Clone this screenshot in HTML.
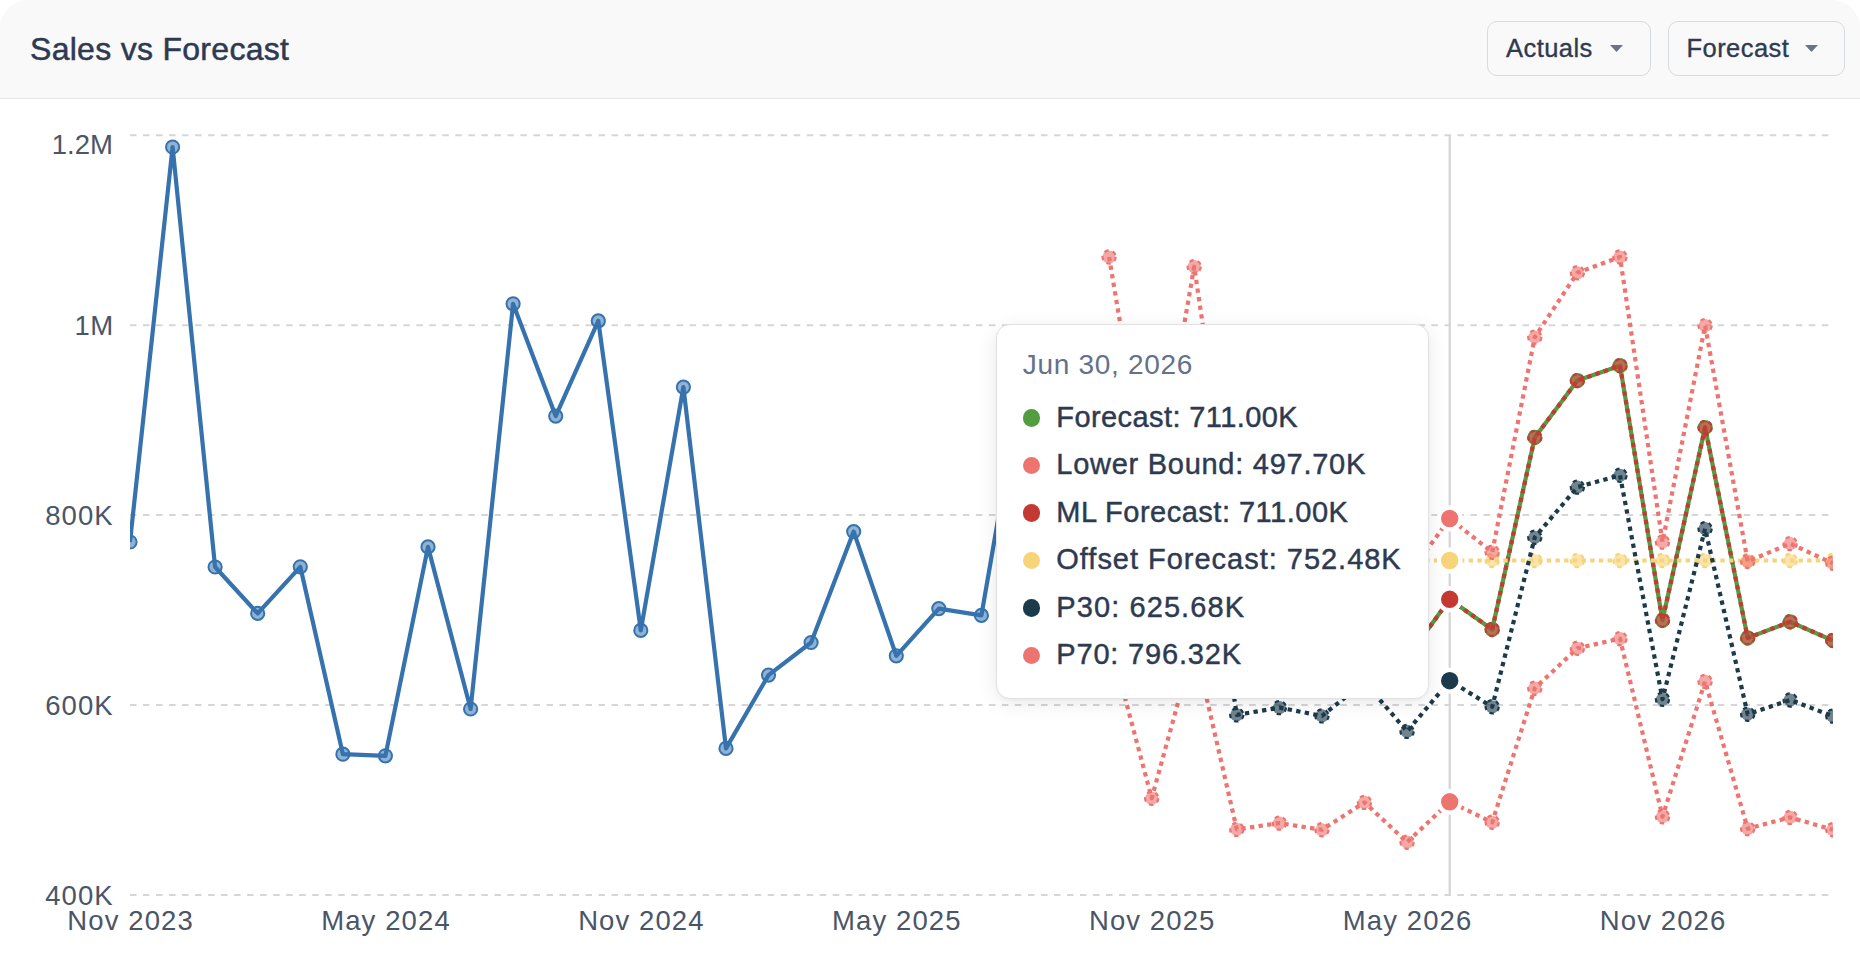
<!DOCTYPE html>
<html><head><meta charset="utf-8"><title>Sales vs Forecast</title>
<style>
html,body{margin:0;padding:0;background:#fff;}
body{width:1860px;height:966px;overflow:hidden;position:relative;font-family:"Liberation Sans",Arial,sans-serif;}
.card{position:absolute;left:0;top:0;width:1860px;height:1000px;border-radius:28px 28px 0 0;background:#fff;overflow:hidden;}
.hdr{position:absolute;left:0;top:0;width:1860px;height:97.6px;background:#f9f9fa;border-bottom:1.4px solid #e6e7eb;}
.title{position:absolute;left:30px;top:28.8px;font-size:32px;line-height:40px;color:#2d3a52;letter-spacing:0.29px;white-space:nowrap;-webkit-text-stroke:0.5px #2d3a52;}
.btn{position:absolute;top:21px;height:53.4px;border:1.5px solid #d6dae1;border-radius:10px;background:#f9f9fa;box-sizing:content-box;}
.btn span{position:absolute;top:10.9px;font-size:25.5px;line-height:30px;color:#2e3a50;letter-spacing:0.45px;white-space:nowrap;-webkit-text-stroke:0.35px #2e3a50;}
.caret{position:absolute;top:22.9px;}
.chart{position:absolute;left:0;top:0;}
.ax{font-family:"Liberation Sans",Arial,sans-serif;font-size:27.5px;fill:#4a5568;letter-spacing:1.1px;}
.tip{position:absolute;left:996.3px;top:324.4px;width:430.5px;height:372.6px;background:#fff;border:1.4px solid #e2e2e2;border-radius:14px;
 box-shadow:0 4px 20px rgba(0,0,0,0.09), 0 1px 3px rgba(0,0,0,0.04);}
.tdate{position:absolute;left:25.5px;top:22.7px;font-size:28px;line-height:34px;color:#64718a;letter-spacing:0.7px;white-space:nowrap;}
.ti{position:absolute;left:0;height:34px;width:420px;}
.dot{position:absolute;left:25.7px;top:9.6px;width:17.5px;height:17.5px;border-radius:50%;}
.tt{position:absolute;left:59px;top:0;font-size:29px;line-height:34px;color:#2e3a50;letter-spacing:0.5px;white-space:nowrap;-webkit-text-stroke:0.45px #2e3a50;}
</style></head>
<body>
<div class="card">
<div class="hdr">
<div class="title">Sales vs Forecast</div>
<div class="btn" style="left:1487px;width:162px;"><span style="left:18px;">Actuals</span><svg class="caret" style="left:121.5px" width="13" height="7" viewBox="0 0 13 7"><path d="M0 0 L13 0 L6.5 7 Z" fill="#6b7385"/></svg></div>
<div class="btn" style="left:1668px;width:175px;"><span style="left:17.5px;">Forecast</span><svg class="caret" style="left:135.5px" width="13" height="7" viewBox="0 0 13 7"><path d="M0 0 L13 0 L6.5 7 Z" fill="#6b7385"/></svg></div>
</div>
<svg class="chart" width="1860" height="966" viewBox="0 0 1860 966">
<defs><clipPath id="plot"><rect x="130" y="100" width="1703" height="866"/></clipPath></defs>
<line x1="130" y1="135.3" x2="1832" y2="135.3" stroke="#d6d6d6" stroke-width="2" stroke-dasharray="6.507 6.507"/>
<text x="112.9" y="154.4" text-anchor="end" class="ax" style="letter-spacing:0.0px">1.2M</text>
<line x1="130" y1="325.2" x2="1832" y2="325.2" stroke="#d6d6d6" stroke-width="2" stroke-dasharray="6.507 6.507"/>
<text x="113.8" y="335.0" text-anchor="end" class="ax" style="letter-spacing:0.6px">1M</text>
<line x1="130" y1="515.1" x2="1832" y2="515.1" stroke="#d6d6d6" stroke-width="2" stroke-dasharray="6.507 6.507"/>
<text x="113.8" y="524.9" text-anchor="end" class="ax" style="letter-spacing:1.1px">800K</text>
<line x1="130" y1="705.0" x2="1832" y2="705.0" stroke="#d6d6d6" stroke-width="2" stroke-dasharray="6.507 6.507"/>
<text x="113.8" y="714.8" text-anchor="end" class="ax" style="letter-spacing:1.1px">600K</text>
<line x1="130" y1="894.9" x2="1832" y2="894.9" stroke="#d6d6d6" stroke-width="2" stroke-dasharray="6.507 6.507"/>
<text x="113.8" y="904.7" text-anchor="end" class="ax" style="letter-spacing:1.1px">400K</text>
<text x="130.6" y="929.6" text-anchor="middle" class="ax">Nov 2023</text>
<text x="386.0" y="929.6" text-anchor="middle" class="ax">May 2024</text>
<text x="641.4" y="929.6" text-anchor="middle" class="ax">Nov 2024</text>
<text x="896.8" y="929.6" text-anchor="middle" class="ax">May 2025</text>
<text x="1152.2" y="929.6" text-anchor="middle" class="ax">Nov 2025</text>
<text x="1407.6" y="929.6" text-anchor="middle" class="ax">May 2026</text>
<text x="1663.1" y="929.6" text-anchor="middle" class="ax">Nov 2026</text>
<line x1="1449.7" y1="135.3" x2="1449.7" y2="894.9" stroke="#d4d4d4" stroke-width="2.2"/>
<g clip-path="url(#plot)">
<polyline points="130.0,542.0 172.6,147.0 215.1,567.0 257.7,613.4 300.3,566.8 342.9,754.2 385.4,755.8 428.0,546.9 470.6,709.0 513.1,303.8 555.7,416.1 598.3,320.9 640.8,630.4 683.4,387.1 726.0,748.4 768.5,675.1 811.1,642.5 853.7,531.6 896.3,655.8 938.8,608.6 981.4,615.4 1024.0,370.0 1066.5,520.0" fill="none" stroke="#3673ae" stroke-width="4.2" stroke-linejoin="round"/>
<circle cx="130.0" cy="542.0" r="6.6" fill="#3673ae" fill-opacity="0.55" stroke="#3673ae" stroke-width="2.0"/>
<circle cx="172.6" cy="147.0" r="6.6" fill="#3673ae" fill-opacity="0.55" stroke="#3673ae" stroke-width="2.0"/>
<circle cx="215.1" cy="567.0" r="6.6" fill="#3673ae" fill-opacity="0.55" stroke="#3673ae" stroke-width="2.0"/>
<circle cx="257.7" cy="613.4" r="6.6" fill="#3673ae" fill-opacity="0.55" stroke="#3673ae" stroke-width="2.0"/>
<circle cx="300.3" cy="566.8" r="6.6" fill="#3673ae" fill-opacity="0.55" stroke="#3673ae" stroke-width="2.0"/>
<circle cx="342.9" cy="754.2" r="6.6" fill="#3673ae" fill-opacity="0.55" stroke="#3673ae" stroke-width="2.0"/>
<circle cx="385.4" cy="755.8" r="6.6" fill="#3673ae" fill-opacity="0.55" stroke="#3673ae" stroke-width="2.0"/>
<circle cx="428.0" cy="546.9" r="6.6" fill="#3673ae" fill-opacity="0.55" stroke="#3673ae" stroke-width="2.0"/>
<circle cx="470.6" cy="709.0" r="6.6" fill="#3673ae" fill-opacity="0.55" stroke="#3673ae" stroke-width="2.0"/>
<circle cx="513.1" cy="303.8" r="6.6" fill="#3673ae" fill-opacity="0.55" stroke="#3673ae" stroke-width="2.0"/>
<circle cx="555.7" cy="416.1" r="6.6" fill="#3673ae" fill-opacity="0.55" stroke="#3673ae" stroke-width="2.0"/>
<circle cx="598.3" cy="320.9" r="6.6" fill="#3673ae" fill-opacity="0.55" stroke="#3673ae" stroke-width="2.0"/>
<circle cx="640.8" cy="630.4" r="6.6" fill="#3673ae" fill-opacity="0.55" stroke="#3673ae" stroke-width="2.0"/>
<circle cx="683.4" cy="387.1" r="6.6" fill="#3673ae" fill-opacity="0.55" stroke="#3673ae" stroke-width="2.0"/>
<circle cx="726.0" cy="748.4" r="6.6" fill="#3673ae" fill-opacity="0.55" stroke="#3673ae" stroke-width="2.0"/>
<circle cx="768.5" cy="675.1" r="6.6" fill="#3673ae" fill-opacity="0.55" stroke="#3673ae" stroke-width="2.0"/>
<circle cx="811.1" cy="642.5" r="6.6" fill="#3673ae" fill-opacity="0.55" stroke="#3673ae" stroke-width="2.0"/>
<circle cx="853.7" cy="531.6" r="6.6" fill="#3673ae" fill-opacity="0.55" stroke="#3673ae" stroke-width="2.0"/>
<circle cx="896.3" cy="655.8" r="6.6" fill="#3673ae" fill-opacity="0.55" stroke="#3673ae" stroke-width="2.0"/>
<circle cx="938.8" cy="608.6" r="6.6" fill="#3673ae" fill-opacity="0.55" stroke="#3673ae" stroke-width="2.0"/>
<circle cx="981.4" cy="615.4" r="6.6" fill="#3673ae" fill-opacity="0.55" stroke="#3673ae" stroke-width="2.0"/>
<circle cx="1024.0" cy="370.0" r="6.6" fill="#3673ae" fill-opacity="0.55" stroke="#3673ae" stroke-width="2.0"/>
<circle cx="1066.5" cy="520.0" r="6.6" fill="#3673ae" fill-opacity="0.55" stroke="#3673ae" stroke-width="2.0"/>
<polyline points="1364.5,620.0 1407.1,658.0 1449.7,599.3 1492.2,629.5 1534.8,437.4 1577.4,380.6 1620.0,365.7 1662.5,620.3 1705.1,427.5 1747.7,637.9 1790.2,621.8 1832.8,640.5" fill="none" stroke="#529d3f" stroke-width="4.2" stroke-linejoin="round"/>
<circle cx="1364.5" cy="620.0" r="6.6" fill="#529d3f" fill-opacity="0.55" stroke="#529d3f" stroke-width="2.0"/>
<circle cx="1407.1" cy="658.0" r="6.6" fill="#529d3f" fill-opacity="0.55" stroke="#529d3f" stroke-width="2.0"/>
<circle cx="1492.2" cy="629.5" r="6.6" fill="#529d3f" fill-opacity="0.55" stroke="#529d3f" stroke-width="2.0"/>
<circle cx="1534.8" cy="437.4" r="6.6" fill="#529d3f" fill-opacity="0.55" stroke="#529d3f" stroke-width="2.0"/>
<circle cx="1577.4" cy="380.6" r="6.6" fill="#529d3f" fill-opacity="0.55" stroke="#529d3f" stroke-width="2.0"/>
<circle cx="1620.0" cy="365.7" r="6.6" fill="#529d3f" fill-opacity="0.55" stroke="#529d3f" stroke-width="2.0"/>
<circle cx="1662.5" cy="620.3" r="6.6" fill="#529d3f" fill-opacity="0.55" stroke="#529d3f" stroke-width="2.0"/>
<circle cx="1705.1" cy="427.5" r="6.6" fill="#529d3f" fill-opacity="0.55" stroke="#529d3f" stroke-width="2.0"/>
<circle cx="1747.7" cy="637.9" r="6.6" fill="#529d3f" fill-opacity="0.55" stroke="#529d3f" stroke-width="2.0"/>
<circle cx="1790.2" cy="621.8" r="6.6" fill="#529d3f" fill-opacity="0.55" stroke="#529d3f" stroke-width="2.0"/>
<circle cx="1832.8" cy="640.5" r="6.6" fill="#529d3f" fill-opacity="0.55" stroke="#529d3f" stroke-width="2.0"/>
<polyline points="1109.1,638.0 1151.7,798.3 1194.2,644.0 1236.8,829.4 1279.4,823.1 1322.0,829.8 1364.5,802.4 1407.1,842.2 1449.7,801.8 1492.2,822.3 1534.8,688.2 1577.4,648.3 1620.0,638.6 1662.5,816.7 1705.1,681.4 1747.7,828.6 1790.2,817.4 1832.8,829.7" fill="none" stroke="#ee7470" stroke-width="4.2" stroke-linejoin="round" stroke-dasharray="4.34 4.34"/>
<circle cx="1109.1" cy="638.0" r="6.6" fill="#ee7470" fill-opacity="0.62" stroke="#ee7470" stroke-width="2.2" stroke-dasharray="4.34 4.34"/>
<circle cx="1151.7" cy="798.3" r="6.6" fill="#ee7470" fill-opacity="0.62" stroke="#ee7470" stroke-width="2.2" stroke-dasharray="4.34 4.34"/>
<circle cx="1194.2" cy="644.0" r="6.6" fill="#ee7470" fill-opacity="0.62" stroke="#ee7470" stroke-width="2.2" stroke-dasharray="4.34 4.34"/>
<circle cx="1236.8" cy="829.4" r="6.6" fill="#ee7470" fill-opacity="0.62" stroke="#ee7470" stroke-width="2.2" stroke-dasharray="4.34 4.34"/>
<circle cx="1279.4" cy="823.1" r="6.6" fill="#ee7470" fill-opacity="0.62" stroke="#ee7470" stroke-width="2.2" stroke-dasharray="4.34 4.34"/>
<circle cx="1322.0" cy="829.8" r="6.6" fill="#ee7470" fill-opacity="0.62" stroke="#ee7470" stroke-width="2.2" stroke-dasharray="4.34 4.34"/>
<circle cx="1364.5" cy="802.4" r="6.6" fill="#ee7470" fill-opacity="0.62" stroke="#ee7470" stroke-width="2.2" stroke-dasharray="4.34 4.34"/>
<circle cx="1407.1" cy="842.2" r="6.6" fill="#ee7470" fill-opacity="0.62" stroke="#ee7470" stroke-width="2.2" stroke-dasharray="4.34 4.34"/>
<circle cx="1492.2" cy="822.3" r="6.6" fill="#ee7470" fill-opacity="0.62" stroke="#ee7470" stroke-width="2.2" stroke-dasharray="4.34 4.34"/>
<circle cx="1534.8" cy="688.2" r="6.6" fill="#ee7470" fill-opacity="0.62" stroke="#ee7470" stroke-width="2.2" stroke-dasharray="4.34 4.34"/>
<circle cx="1577.4" cy="648.3" r="6.6" fill="#ee7470" fill-opacity="0.62" stroke="#ee7470" stroke-width="2.2" stroke-dasharray="4.34 4.34"/>
<circle cx="1620.0" cy="638.6" r="6.6" fill="#ee7470" fill-opacity="0.62" stroke="#ee7470" stroke-width="2.2" stroke-dasharray="4.34 4.34"/>
<circle cx="1662.5" cy="816.7" r="6.6" fill="#ee7470" fill-opacity="0.62" stroke="#ee7470" stroke-width="2.2" stroke-dasharray="4.34 4.34"/>
<circle cx="1705.1" cy="681.4" r="6.6" fill="#ee7470" fill-opacity="0.62" stroke="#ee7470" stroke-width="2.2" stroke-dasharray="4.34 4.34"/>
<circle cx="1747.7" cy="828.6" r="6.6" fill="#ee7470" fill-opacity="0.62" stroke="#ee7470" stroke-width="2.2" stroke-dasharray="4.34 4.34"/>
<circle cx="1790.2" cy="817.4" r="6.6" fill="#ee7470" fill-opacity="0.62" stroke="#ee7470" stroke-width="2.2" stroke-dasharray="4.34 4.34"/>
<circle cx="1832.8" cy="829.7" r="6.6" fill="#ee7470" fill-opacity="0.62" stroke="#ee7470" stroke-width="2.2" stroke-dasharray="4.34 4.34"/>
<polyline points="1364.5,620.0 1407.1,658.0 1449.7,599.3 1492.2,629.5 1534.8,437.4 1577.4,380.6 1620.0,365.7 1662.5,620.3 1705.1,427.5 1747.7,637.9 1790.2,621.8 1832.8,640.5" fill="none" stroke="#c43a32" stroke-width="4.2" stroke-linejoin="round" stroke-dasharray="4.34 4.34"/>
<circle cx="1364.5" cy="620.0" r="6.6" fill="#c43a32" fill-opacity="0.62" stroke="#c43a32" stroke-width="2.2" stroke-dasharray="4.34 4.34"/>
<circle cx="1407.1" cy="658.0" r="6.6" fill="#c43a32" fill-opacity="0.62" stroke="#c43a32" stroke-width="2.2" stroke-dasharray="4.34 4.34"/>
<circle cx="1492.2" cy="629.5" r="6.6" fill="#c43a32" fill-opacity="0.62" stroke="#c43a32" stroke-width="2.2" stroke-dasharray="4.34 4.34"/>
<circle cx="1534.8" cy="437.4" r="6.6" fill="#c43a32" fill-opacity="0.62" stroke="#c43a32" stroke-width="2.2" stroke-dasharray="4.34 4.34"/>
<circle cx="1577.4" cy="380.6" r="6.6" fill="#c43a32" fill-opacity="0.62" stroke="#c43a32" stroke-width="2.2" stroke-dasharray="4.34 4.34"/>
<circle cx="1620.0" cy="365.7" r="6.6" fill="#c43a32" fill-opacity="0.62" stroke="#c43a32" stroke-width="2.2" stroke-dasharray="4.34 4.34"/>
<circle cx="1662.5" cy="620.3" r="6.6" fill="#c43a32" fill-opacity="0.62" stroke="#c43a32" stroke-width="2.2" stroke-dasharray="4.34 4.34"/>
<circle cx="1705.1" cy="427.5" r="6.6" fill="#c43a32" fill-opacity="0.62" stroke="#c43a32" stroke-width="2.2" stroke-dasharray="4.34 4.34"/>
<circle cx="1747.7" cy="637.9" r="6.6" fill="#c43a32" fill-opacity="0.62" stroke="#c43a32" stroke-width="2.2" stroke-dasharray="4.34 4.34"/>
<circle cx="1790.2" cy="621.8" r="6.6" fill="#c43a32" fill-opacity="0.62" stroke="#c43a32" stroke-width="2.2" stroke-dasharray="4.34 4.34"/>
<circle cx="1832.8" cy="640.5" r="6.6" fill="#c43a32" fill-opacity="0.62" stroke="#c43a32" stroke-width="2.2" stroke-dasharray="4.34 4.34"/>
<polyline points="1364.5,560.5 1407.1,560.5 1449.7,560.5 1492.2,560.5 1534.8,560.5 1577.4,560.5 1620.0,560.5 1662.5,560.5 1705.1,560.5 1747.7,560.5 1790.2,560.5 1832.8,560.5" fill="none" stroke="#f7d379" stroke-width="4.2" stroke-linejoin="round" stroke-dasharray="4.34 4.34"/>
<circle cx="1364.5" cy="560.5" r="6.6" fill="#f7d379" fill-opacity="0.62" stroke="#f7d379" stroke-width="2.2" stroke-dasharray="4.34 4.34"/>
<circle cx="1407.1" cy="560.5" r="6.6" fill="#f7d379" fill-opacity="0.62" stroke="#f7d379" stroke-width="2.2" stroke-dasharray="4.34 4.34"/>
<circle cx="1492.2" cy="560.5" r="6.6" fill="#f7d379" fill-opacity="0.62" stroke="#f7d379" stroke-width="2.2" stroke-dasharray="4.34 4.34"/>
<circle cx="1534.8" cy="560.5" r="6.6" fill="#f7d379" fill-opacity="0.62" stroke="#f7d379" stroke-width="2.2" stroke-dasharray="4.34 4.34"/>
<circle cx="1577.4" cy="560.5" r="6.6" fill="#f7d379" fill-opacity="0.62" stroke="#f7d379" stroke-width="2.2" stroke-dasharray="4.34 4.34"/>
<circle cx="1620.0" cy="560.5" r="6.6" fill="#f7d379" fill-opacity="0.62" stroke="#f7d379" stroke-width="2.2" stroke-dasharray="4.34 4.34"/>
<circle cx="1662.5" cy="560.5" r="6.6" fill="#f7d379" fill-opacity="0.62" stroke="#f7d379" stroke-width="2.2" stroke-dasharray="4.34 4.34"/>
<circle cx="1705.1" cy="560.5" r="6.6" fill="#f7d379" fill-opacity="0.62" stroke="#f7d379" stroke-width="2.2" stroke-dasharray="4.34 4.34"/>
<circle cx="1747.7" cy="560.5" r="6.6" fill="#f7d379" fill-opacity="0.62" stroke="#f7d379" stroke-width="2.2" stroke-dasharray="4.34 4.34"/>
<circle cx="1790.2" cy="560.5" r="6.6" fill="#f7d379" fill-opacity="0.62" stroke="#f7d379" stroke-width="2.2" stroke-dasharray="4.34 4.34"/>
<circle cx="1832.8" cy="560.5" r="6.6" fill="#f7d379" fill-opacity="0.62" stroke="#f7d379" stroke-width="2.2" stroke-dasharray="4.34 4.34"/>
<polyline points="1194.2,440.0 1236.8,714.9 1279.4,707.6 1322.0,715.9 1364.5,682.0 1407.1,731.4 1449.7,680.7 1492.2,706.8 1534.8,537.3 1577.4,487.1 1620.0,475.3 1662.5,699.3 1705.1,528.7 1747.7,714.2 1790.2,700.0 1832.8,716.1" fill="none" stroke="#1b3a4b" stroke-width="4.2" stroke-linejoin="round" stroke-dasharray="4.34 4.34"/>
<circle cx="1194.2" cy="440.0" r="6.6" fill="#1b3a4b" fill-opacity="0.62" stroke="#1b3a4b" stroke-width="2.2" stroke-dasharray="4.34 4.34"/>
<circle cx="1236.8" cy="714.9" r="6.6" fill="#1b3a4b" fill-opacity="0.62" stroke="#1b3a4b" stroke-width="2.2" stroke-dasharray="4.34 4.34"/>
<circle cx="1279.4" cy="707.6" r="6.6" fill="#1b3a4b" fill-opacity="0.62" stroke="#1b3a4b" stroke-width="2.2" stroke-dasharray="4.34 4.34"/>
<circle cx="1322.0" cy="715.9" r="6.6" fill="#1b3a4b" fill-opacity="0.62" stroke="#1b3a4b" stroke-width="2.2" stroke-dasharray="4.34 4.34"/>
<circle cx="1364.5" cy="682.0" r="6.6" fill="#1b3a4b" fill-opacity="0.62" stroke="#1b3a4b" stroke-width="2.2" stroke-dasharray="4.34 4.34"/>
<circle cx="1407.1" cy="731.4" r="6.6" fill="#1b3a4b" fill-opacity="0.62" stroke="#1b3a4b" stroke-width="2.2" stroke-dasharray="4.34 4.34"/>
<circle cx="1492.2" cy="706.8" r="6.6" fill="#1b3a4b" fill-opacity="0.62" stroke="#1b3a4b" stroke-width="2.2" stroke-dasharray="4.34 4.34"/>
<circle cx="1534.8" cy="537.3" r="6.6" fill="#1b3a4b" fill-opacity="0.62" stroke="#1b3a4b" stroke-width="2.2" stroke-dasharray="4.34 4.34"/>
<circle cx="1577.4" cy="487.1" r="6.6" fill="#1b3a4b" fill-opacity="0.62" stroke="#1b3a4b" stroke-width="2.2" stroke-dasharray="4.34 4.34"/>
<circle cx="1620.0" cy="475.3" r="6.6" fill="#1b3a4b" fill-opacity="0.62" stroke="#1b3a4b" stroke-width="2.2" stroke-dasharray="4.34 4.34"/>
<circle cx="1662.5" cy="699.3" r="6.6" fill="#1b3a4b" fill-opacity="0.62" stroke="#1b3a4b" stroke-width="2.2" stroke-dasharray="4.34 4.34"/>
<circle cx="1705.1" cy="528.7" r="6.6" fill="#1b3a4b" fill-opacity="0.62" stroke="#1b3a4b" stroke-width="2.2" stroke-dasharray="4.34 4.34"/>
<circle cx="1747.7" cy="714.2" r="6.6" fill="#1b3a4b" fill-opacity="0.62" stroke="#1b3a4b" stroke-width="2.2" stroke-dasharray="4.34 4.34"/>
<circle cx="1790.2" cy="700.0" r="6.6" fill="#1b3a4b" fill-opacity="0.62" stroke="#1b3a4b" stroke-width="2.2" stroke-dasharray="4.34 4.34"/>
<circle cx="1832.8" cy="716.1" r="6.6" fill="#1b3a4b" fill-opacity="0.62" stroke="#1b3a4b" stroke-width="2.2" stroke-dasharray="4.34 4.34"/>
<polyline points="1109.1,257.0 1151.7,512.0 1194.2,266.7 1236.8,555.0 1279.4,560.0 1322.0,590.0 1364.5,570.0 1407.1,577.0 1449.7,518.5 1492.2,552.2 1534.8,337.1 1577.4,272.8 1620.0,257.0 1662.5,542.1 1705.1,325.6 1747.7,561.5 1790.2,543.6 1832.8,563.3" fill="none" stroke="#ee7470" stroke-width="4.2" stroke-linejoin="round" stroke-dasharray="4.34 4.34"/>
<circle cx="1109.1" cy="257.0" r="6.6" fill="#ee7470" fill-opacity="0.62" stroke="#ee7470" stroke-width="2.2" stroke-dasharray="4.34 4.34"/>
<circle cx="1151.7" cy="512.0" r="6.6" fill="#ee7470" fill-opacity="0.62" stroke="#ee7470" stroke-width="2.2" stroke-dasharray="4.34 4.34"/>
<circle cx="1194.2" cy="266.7" r="6.6" fill="#ee7470" fill-opacity="0.62" stroke="#ee7470" stroke-width="2.2" stroke-dasharray="4.34 4.34"/>
<circle cx="1236.8" cy="555.0" r="6.6" fill="#ee7470" fill-opacity="0.62" stroke="#ee7470" stroke-width="2.2" stroke-dasharray="4.34 4.34"/>
<circle cx="1279.4" cy="560.0" r="6.6" fill="#ee7470" fill-opacity="0.62" stroke="#ee7470" stroke-width="2.2" stroke-dasharray="4.34 4.34"/>
<circle cx="1322.0" cy="590.0" r="6.6" fill="#ee7470" fill-opacity="0.62" stroke="#ee7470" stroke-width="2.2" stroke-dasharray="4.34 4.34"/>
<circle cx="1364.5" cy="570.0" r="6.6" fill="#ee7470" fill-opacity="0.62" stroke="#ee7470" stroke-width="2.2" stroke-dasharray="4.34 4.34"/>
<circle cx="1407.1" cy="577.0" r="6.6" fill="#ee7470" fill-opacity="0.62" stroke="#ee7470" stroke-width="2.2" stroke-dasharray="4.34 4.34"/>
<circle cx="1492.2" cy="552.2" r="6.6" fill="#ee7470" fill-opacity="0.62" stroke="#ee7470" stroke-width="2.2" stroke-dasharray="4.34 4.34"/>
<circle cx="1534.8" cy="337.1" r="6.6" fill="#ee7470" fill-opacity="0.62" stroke="#ee7470" stroke-width="2.2" stroke-dasharray="4.34 4.34"/>
<circle cx="1577.4" cy="272.8" r="6.6" fill="#ee7470" fill-opacity="0.62" stroke="#ee7470" stroke-width="2.2" stroke-dasharray="4.34 4.34"/>
<circle cx="1620.0" cy="257.0" r="6.6" fill="#ee7470" fill-opacity="0.62" stroke="#ee7470" stroke-width="2.2" stroke-dasharray="4.34 4.34"/>
<circle cx="1662.5" cy="542.1" r="6.6" fill="#ee7470" fill-opacity="0.62" stroke="#ee7470" stroke-width="2.2" stroke-dasharray="4.34 4.34"/>
<circle cx="1705.1" cy="325.6" r="6.6" fill="#ee7470" fill-opacity="0.62" stroke="#ee7470" stroke-width="2.2" stroke-dasharray="4.34 4.34"/>
<circle cx="1747.7" cy="561.5" r="6.6" fill="#ee7470" fill-opacity="0.62" stroke="#ee7470" stroke-width="2.2" stroke-dasharray="4.34 4.34"/>
<circle cx="1790.2" cy="543.6" r="6.6" fill="#ee7470" fill-opacity="0.62" stroke="#ee7470" stroke-width="2.2" stroke-dasharray="4.34 4.34"/>
<circle cx="1832.8" cy="563.3" r="6.6" fill="#ee7470" fill-opacity="0.62" stroke="#ee7470" stroke-width="2.2" stroke-dasharray="4.34 4.34"/>
</g>
<circle cx="1449.7" cy="599.3" r="10.8" fill="#529d3f" stroke="#fff" stroke-width="4.2"/>
<circle cx="1449.7" cy="801.8" r="10.8" fill="#ee7470" stroke="#fff" stroke-width="4.2"/>
<circle cx="1449.7" cy="599.3" r="10.8" fill="#c43a32" stroke="#fff" stroke-width="4.2"/>
<circle cx="1449.7" cy="560.5" r="10.8" fill="#f7d379" stroke="#fff" stroke-width="4.2"/>
<circle cx="1449.7" cy="680.7" r="10.8" fill="#1b3a4b" stroke="#fff" stroke-width="4.2"/>
<circle cx="1449.7" cy="518.5" r="10.8" fill="#ee7470" stroke="#fff" stroke-width="4.2"/>
</svg>
<div class="tip">
<div class="tdate">Jun 30, 2026</div>
<div class="ti" style="top:74.5px"><span class="dot" style="background:#529d3f"></span><span class="tt" style="letter-spacing:0.41px">Forecast: 711.00K</span></div>
<div class="ti" style="top:122.0px"><span class="dot" style="background:#ee7470"></span><span class="tt" style="letter-spacing:0.73px">Lower Bound: 497.70K</span></div>
<div class="ti" style="top:169.5px"><span class="dot" style="background:#c43a32"></span><span class="tt" style="letter-spacing:0.5px">ML Forecast: 711.00K</span></div>
<div class="ti" style="top:217.0px"><span class="dot" style="background:#f7d379"></span><span class="tt" style="letter-spacing:0.98px">Offset Forecast: 752.48K</span></div>
<div class="ti" style="top:264.5px"><span class="dot" style="background:#1b3a4b"></span><span class="tt" style="letter-spacing:1.09px">P30: 625.68K</span></div>
<div class="ti" style="top:312.0px"><span class="dot" style="background:#ee7470"></span><span class="tt" style="letter-spacing:0.82px">P70: 796.32K</span></div>
</div>
</div>
</body></html>
